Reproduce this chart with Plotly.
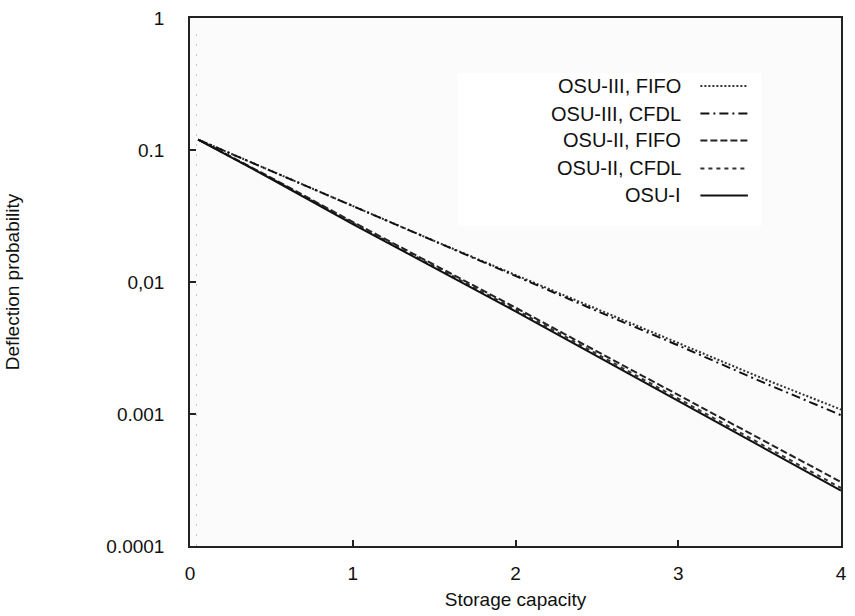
import plotly.graph_objects as go

# ---- data ----
storage = [0.05, 0.5, 1.0, 1.5, 2.0, 2.5, 3.0, 3.5, 4.0]
osu3_fifo = [0.120, 0.0692, 0.0380, 0.0205, 0.0113, 0.0062, 0.00345, 0.00190, 0.00108]
osu3_cfdl = [0.120, 0.0692, 0.0380, 0.0204, 0.0112, 0.00603, 0.00331, 0.00178, 0.00098]
osu2_fifo = [0.120, 0.0615, 0.0285, 0.0135, 0.0064, 0.00298, 0.00139, 0.00065, 0.000305]
osu2_cfdl = [0.120, 0.0608, 0.0280, 0.0131, 0.0062, 0.00285, 0.00131, 0.000600, 0.000275]
osu1 = [0.120, 0.0603, 0.0275, 0.0129, 0.0060, 0.00275, 0.00126, 0.000575, 0.000263]

series_names = ["OSU-III, FIFO", "OSU-III, CFDL", "OSU-II, FIFO", "OSU-II, CFDL", "OSU-I"]
series_values = [osu3_fifo, osu3_cfdl, osu2_fifo, osu2_cfdl, osu1]
series_dash = ["2px,2px", "9px,4px,2px,4px", "7px,3px", "4px,4px", "solid"]
series_color = ["#333333", "#111111", "#222222", "#333333", "#111111"]

y_tickvals = [1, 0.1, 0.01, 0.001, 0.0001]
y_ticktext = ["1", "0.1", "0,01", "0.001", "0.0001"]
x_tickvals = [0, 1, 2, 3, 4]
x_ticktext = ["0", "1", "2", "3", "4"]

FONT = "Liberation Sans, Arial, Helvetica, sans-serif"

fig = go.Figure()
for name, vals, dash, col in zip(series_names, series_values, series_dash, series_color):
    fig.add_trace(go.Scatter(x=storage, y=vals, mode="lines", name=name,
                             line=dict(color=col, width=2, dash=dash),
                             showlegend=False))

shapes = []
annotations = []
# faint dotted vertical line near the left edge
shapes.append(dict(type="line", xref="x", yref="paper", x0=0.04, x1=0.04, y0=0, y1=0.97,
                   line=dict(color="#c8c8c8", width=1, dash="2px,8px"), layer="below"))
# legend background box
shapes.append(dict(type="rect", xref="paper", yref="paper", x0=0.411, x1=0.878, y0=0.606, y1=0.896,
                   fillcolor="white", line=dict(width=0), layer="below"))
row_y = [0.871, 0.819, 0.768, 0.715, 0.664]
for name, dash, col, ry in zip(series_names, series_dash, series_color, row_y):
    annotations.append(dict(xref="paper", yref="paper", x=0.758, y=ry, text=name,
                            showarrow=False, xanchor="right", yanchor="middle",
                            font=dict(family=FONT, size=20, color="#111111")))
    shapes.append(dict(type="line", xref="paper", yref="paper", x0=0.784, x1=0.857, y0=ry, y1=ry,
                       line=dict(color=col, width=2, dash=dash)))

fig.update_layout(
    width=855, height=616,
    margin=dict(l=190, r=8, t=13, b=70),
    paper_bgcolor="white",
    plot_bgcolor="#fbfbfb",
    font=dict(family=FONT, size=19, color="#111111"),
    shapes=shapes,
    annotations=annotations,
    showlegend=False,
)
fig.update_xaxes(range=[0, 4], tickvals=x_tickvals, ticktext=x_ticktext,
                 ticks="inside", ticklen=6, tickwidth=1.5, tickcolor="#222",
                 showgrid=False, zeroline=False, showline=True, linecolor="#222", linewidth=1.5,
                 mirror=True, ticklabelstandoff=9,
                 title=dict(text="Storage capacity", standoff=10, font=dict(size=19)))
fig.update_yaxes(type="log", range=[-4, 0], tickvals=y_tickvals, ticktext=y_ticktext,
                 ticks="inside", ticklen=6, tickwidth=1.5, tickcolor="#222",
                 showgrid=False, zeroline=False, showline=True, linecolor="#222", linewidth=1.5,
                 mirror=True, ticklabelstandoff=20,
                 title=dict(text="Deflection probability", standoff=82, font=dict(size=19)))

fig.write_html("out.html")
